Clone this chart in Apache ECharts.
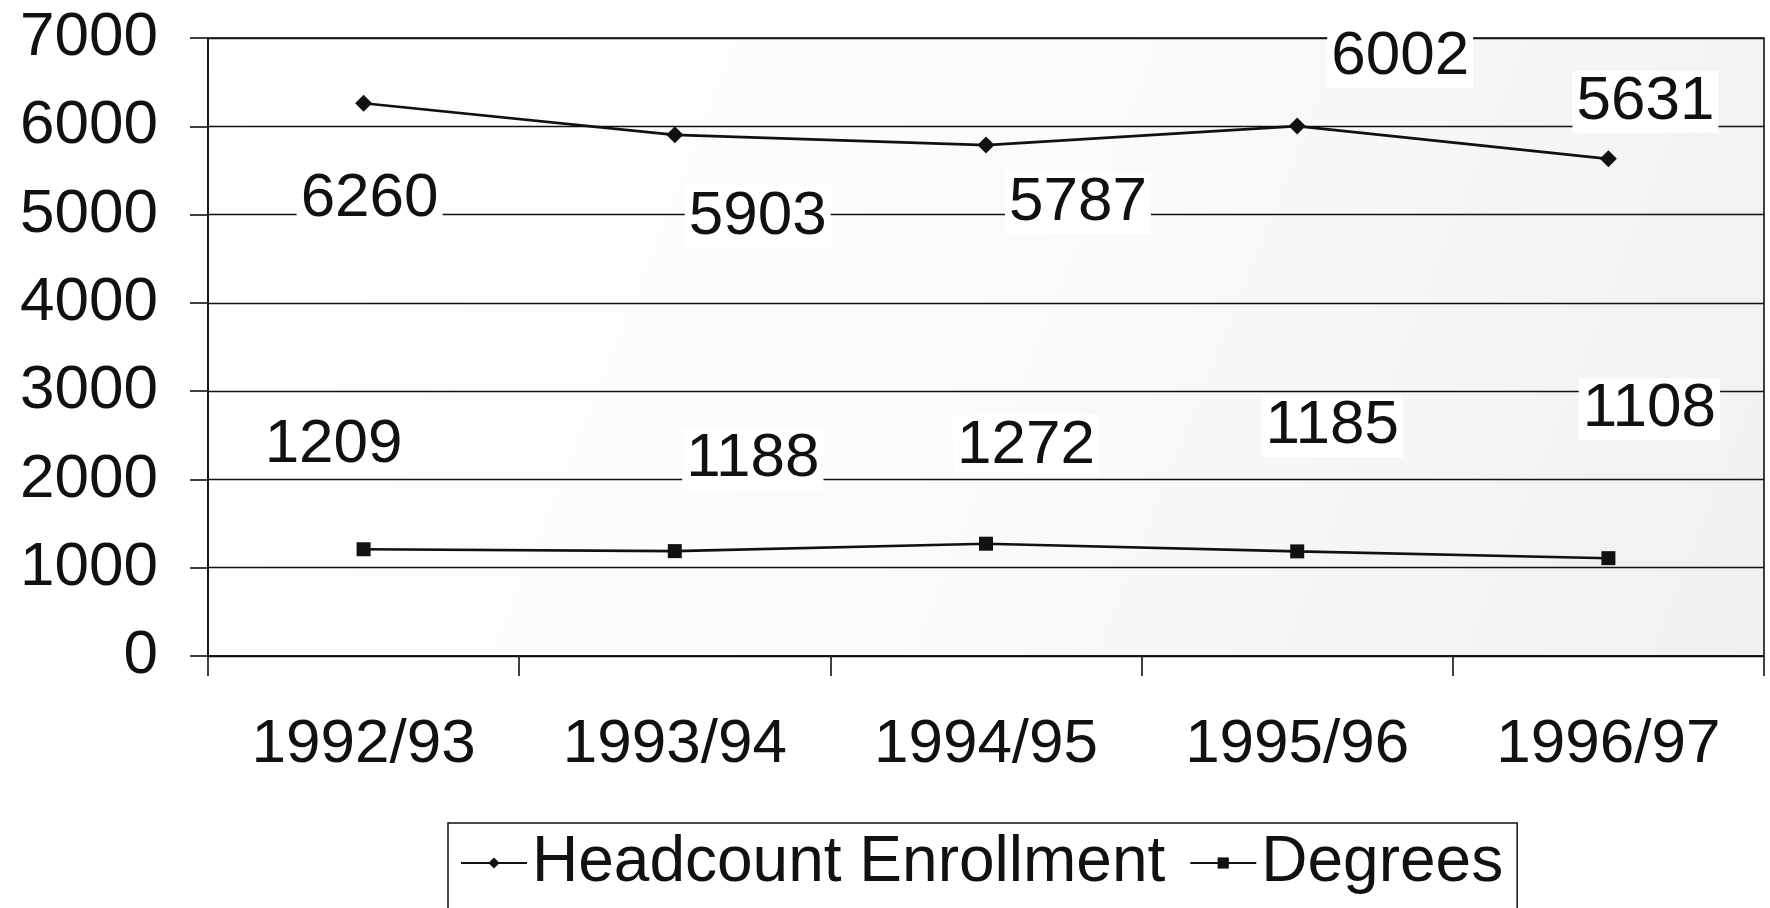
<!DOCTYPE html>
<html>
<head>
<meta charset="utf-8">
<script src="https://cdn.jsdelivr.net/npm/echarts@6/dist/echarts.min.js"></script>
<style>
html,body{margin:0;padding:0;background:#fff;}
#c{width:1770px;height:908px;}
</style>
</head>
<body>
<div id="c"></div>
<script>
const categories = ['1992/93', '1993/94', '1994/95', '1995/96', '1996/97'];
const headcount = [6260, 5903, 5787, 6002, 5631];
const degrees = [1209, 1188, 1272, 1185, 1108];
const yTicks = [0, 1000, 2000, 3000, 4000, 5000, 6000, 7000];

// label placement (style only)
const headcountLabelOffsets = [[6, 96], [83, 82], [92, 58], [103, -69], [37, -57]];
const degreesLabelOffsets = [[-30, -104], [78, -92], [40, -98], [35, -125], [41, -149]];

const FONT = '"Liberation Sans", Arial, sans-serif';
const INK = '#111';

function withLabels(values, offsets) {
  return values.map((v, i) => ({
    value: v,
    label: { offset: offsets[i] }
  }));
}

const labelStyle = {
  show: true,
  position: 'inside',
  fontFamily: FONT,
  fontSize: 62,
  color: INK,
  backgroundColor: '#fff',
  padding: [0, 4]
};

const chart = echarts.init(document.getElementById('c'));
chart.setOption({
  animation: false,
  backgroundColor: '#fff',
  grid: {
    left: 208, right: 6, top: 38, bottom: 252,
    show: true,
    borderColor: INK,
    borderWidth: 1.6,
    backgroundColor: {
      type: 'linear', x: 0, y: 0, x2: 1, y2: 1,
      colorStops: [{ offset: 0, color: '#ffffff' }, { offset: 0.5, color: '#fbfbfb' }, { offset: 1, color: '#f0f0f0' }]
    }
  },
  legend: {
    left: 448,
    top: 823,
    padding: [8, 14, 60, 12],
    borderColor: INK,
    borderWidth: 1.5,
    backgroundColor: '#fff',
    itemWidth: 66,
    itemHeight: 14,
    itemGap: 24,
    textStyle: { fontFamily: FONT, fontSize: 64, color: INK },
    data: ['Headcount Enrollment', 'Degrees']
  },
  xAxis: {
    type: 'category',
    data: categories,
    boundaryGap: true,
    axisLine: { show: true, lineStyle: { color: INK, width: 1.6 } },
    axisTick: { show: true, length: 20, lineStyle: { color: INK, width: 1.6 } },
    axisLabel: { fontFamily: FONT, fontSize: 62, color: INK, margin: 58 },
    splitLine: { show: false }
  },
  yAxis: {
    type: 'value',
    min: 0, max: 7000, interval: 1000,
    axisLine: { show: true, lineStyle: { color: INK, width: 1.6 } },
    axisTick: { show: true, length: 18, lineStyle: { color: INK, width: 1.6 } },
    axisLabel: {
      fontFamily: FONT, fontSize: 62, color: INK, margin: 50,
      formatter: v => (yTicks.indexOf(v) >= 0 ? String(v) : '')
    },
    splitLine: { show: true, lineStyle: { color: INK, width: 1.4 } }
  },
  series: [
    {
      name: 'Headcount Enrollment',
      type: 'line',
      data: withLabels(headcount, headcountLabelOffsets),
      symbol: 'diamond',
      symbolSize: 17,
      itemStyle: { color: INK },
      lineStyle: { color: INK, width: 2.6 },
      label: labelStyle,
      z: 5
    },
    {
      name: 'Degrees',
      type: 'line',
      data: withLabels(degrees, degreesLabelOffsets),
      symbol: 'rect',
      symbolSize: 14,
      itemStyle: { color: INK },
      lineStyle: { color: INK, width: 2.6 },
      label: labelStyle,
      z: 5
    }
  ]
});
</script>
</body>
</html>
